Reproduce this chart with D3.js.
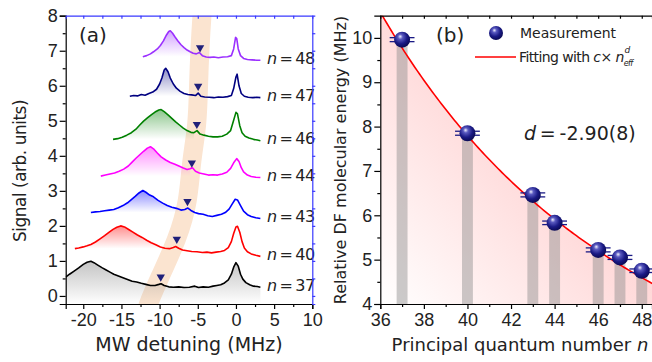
<!DOCTYPE html>
<html>
<head>
<meta charset="utf-8">
<script src="https://cdn.jsdelivr.net/npm/d3@7"></script>
<style>
  body { margin: 0; background: #fff; }
  svg { font-family: "DejaVu Sans", sans-serif; }
  .tick text { font-size: 18px; fill: #222; }
</style>
</head>
<body>
<script>
// ---------- panel (a): spectra ----------
var levels = [37, 40, 43, 44, 46, 47, 48];
var traceColors = ["#000000", "#ff0000", "#0000ff", "#ff00ff", "#008000", "#000080", "#9b30ff"];

var trace37 = [[-22.3,0.54],[-21.8,0.62],[-21.2,0.71],[-20.6,0.8],[-20.0,0.9],[-19.5,0.96],[-19.0,0.99],[-18.6,0.95],[-18.1,0.88],[-17.5,0.8],[-17.0,0.74],[-16.5,0.68],[-16.0,0.62],[-15.4,0.57],[-14.8,0.52],[-14.2,0.47],[-13.6,0.42],[-13.0,0.4],[-12.4,0.36],[-11.8,0.33],[-11.2,0.3],[-10.6,0.3],[-10.1,0.33],[-9.8,0.35],[-9.4,0.3],[-8.8,0.26],[-8.2,0.25],[-7.5,0.26],[-6.8,0.24],[-6.1,0.25],[-5.4,0.28],[-4.9,0.24],[-4.3,0.26],[-3.6,0.25],[-3.0,0.28],[-2.5,0.3],[-2.0,0.32],[-1.5,0.37],[-1.0,0.46],[-0.6,0.62],[-0.3,0.82],[0.0,0.95],[0.3,0.85],[0.6,0.62],[0.9,0.48],[1.3,0.38],[1.8,0.32],[2.3,0.28],[2.8,0.27],[3.2,0.25]];
var trace40 = [[-21.1,1.35],[-20.6,1.37],[-20.0,1.4],[-19.5,1.43],[-19.0,1.47],[-18.4,1.54],[-17.8,1.63],[-17.2,1.72],[-16.6,1.82],[-16.1,1.9],[-15.6,1.96],[-15.1,2.0],[-14.6,1.97],[-14.0,1.89],[-13.5,1.82],[-12.9,1.74],[-12.3,1.67],[-11.7,1.59],[-11.1,1.52],[-10.5,1.46],[-9.9,1.4],[-9.3,1.36],[-8.7,1.35],[-8.2,1.38],[-7.9,1.41],[-7.5,1.36],[-7.0,1.31],[-6.4,1.29],[-5.8,1.27],[-5.1,1.26],[-4.4,1.24],[-3.8,1.25],[-3.2,1.23],[-2.6,1.25],[-2.0,1.27],[-1.5,1.3],[-1.0,1.38],[-0.6,1.55],[-0.3,1.78],[0.0,1.97],[0.2,1.99],[0.5,1.82],[0.8,1.55],[1.1,1.37],[1.5,1.26],[2.0,1.2],[2.6,1.16],[3.2,1.13]];
var trace43 = [[-19.0,2.38],[-18.4,2.4],[-17.8,2.41],[-17.2,2.43],[-16.6,2.45],[-16.0,2.47],[-15.4,2.52],[-14.8,2.58],[-14.2,2.66],[-13.7,2.75],[-13.2,2.84],[-12.7,2.94],[-12.2,3.01],[-11.8,2.96],[-11.3,2.88],[-10.8,2.83],[-10.2,2.73],[-9.6,2.65],[-9.0,2.58],[-8.4,2.53],[-7.8,2.5],[-7.2,2.45],[-6.7,2.47],[-6.3,2.51],[-5.9,2.44],[-5.4,2.38],[-4.9,2.35],[-4.3,2.33],[-3.7,2.29],[-3.1,2.27],[-2.5,2.3],[-1.9,2.33],[-1.4,2.38],[-0.9,2.48],[-0.5,2.62],[-0.1,2.76],[0.2,2.74],[0.6,2.58],[1.0,2.42],[1.5,2.32],[2.0,2.27],[2.6,2.23],[3.2,2.21]];
var trace44 = [[-17.7,3.42],[-17.1,3.45],[-16.5,3.48],[-15.9,3.51],[-15.3,3.56],[-14.7,3.62],[-14.1,3.71],[-13.6,3.82],[-13.1,3.93],[-12.6,4.03],[-12.1,4.13],[-11.6,4.22],[-11.2,4.26],[-10.8,4.2],[-10.3,4.08],[-9.8,3.97],[-9.2,3.88],[-8.6,3.81],[-8.0,3.76],[-7.4,3.7],[-6.9,3.65],[-6.4,3.61],[-6.0,3.63],[-5.7,3.66],[-5.3,3.56],[-4.8,3.51],[-4.2,3.48],[-3.6,3.45],[-3.0,3.46],[-2.4,3.45],[-1.8,3.48],[-1.2,3.53],[-0.7,3.64],[-0.3,3.8],[0.1,3.92],[0.4,3.84],[0.7,3.66],[1.0,3.54],[1.5,3.45],[2.0,3.41],[2.6,3.39],[3.2,3.38]];
var trace46 = [[-16.1,4.47],[-15.5,4.49],[-14.9,4.53],[-14.3,4.59],[-13.7,4.66],[-13.1,4.76],[-12.6,4.88],[-12.1,4.99],[-11.6,5.08],[-11.1,5.17],[-10.6,5.25],[-10.1,5.31],[-9.8,5.32],[-9.4,5.26],[-8.9,5.17],[-8.4,5.07],[-7.9,4.97],[-7.4,4.88],[-6.9,4.79],[-6.4,4.72],[-5.9,4.67],[-5.5,4.66],[-5.1,4.72],[-4.7,4.62],[-4.2,4.59],[-3.6,4.56],[-3.0,4.54],[-2.4,4.54],[-1.8,4.56],[-1.2,4.62],[-0.7,4.72],[-0.35,4.98],[0.0,5.24],[0.2,5.2],[0.5,4.86],[0.8,4.66],[1.2,4.56],[1.7,4.51],[2.3,4.47],[2.8,4.45],[3.2,4.43]];
var trace47 = [[-13.9,5.7],[-13.4,5.72],[-12.9,5.71],[-12.4,5.75],[-11.9,5.73],[-11.4,5.78],[-10.9,5.82],[-10.4,5.9],[-10.0,6.05],[-9.7,6.22],[-9.4,6.45],[-9.2,6.5],[-8.9,6.4],[-8.6,6.22],[-8.2,6.05],[-7.8,5.93],[-7.3,5.84],[-6.8,5.78],[-6.3,5.75],[-5.8,5.74],[-5.3,5.72],[-4.95,5.79],[-4.6,5.7],[-4.1,5.68],[-3.5,5.67],[-2.9,5.66],[-2.3,5.68],[-1.7,5.67],[-1.1,5.69],[-0.6,5.72],[-0.3,5.92],[0.0,6.25],[0.15,6.33],[0.4,6.0],[0.7,5.78],[1.1,5.7],[1.6,5.67],[2.2,5.66],[2.7,5.67],[3.2,5.66]];
var trace48 = [[-12.2,6.83],[-11.7,6.86],[-11.2,6.91],[-10.8,6.97],[-10.3,7.05],[-9.9,7.15],[-9.5,7.28],[-9.1,7.45],[-8.8,7.55],[-8.6,7.57],[-8.3,7.5],[-8.0,7.4],[-7.6,7.28],[-7.2,7.17],[-6.8,7.09],[-6.4,7.02],[-6.0,6.97],[-5.6,6.93],[-5.2,6.91],[-4.8,6.95],[-4.4,6.86],[-3.9,6.82],[-3.4,6.81],[-2.9,6.82],[-2.3,6.8],[-1.7,6.82],[-1.1,6.83],[-0.6,6.86],[-0.3,7.05],[-0.05,7.38],[0.1,7.35],[0.3,7.05],[0.6,6.86],[1.0,6.78],[1.5,6.75],[2.1,6.74],[2.7,6.73],[3.2,6.73]];
var traces = [trace37, trace40, trace43, trace44, trace46, trace47, trace48];

// triangle markers (molecular resonance)
var markerX = [-9.85, -7.75, -6.35, -5.78, -5.12, -4.95, -4.7];
var markerY = [0.54, 1.62, 2.7, 3.8, 4.9, 5.99, 7.09];

// shaded guide band
var bandX = [-11.9, -11.45, -9.95, -7.8, -6.4, -5.8, -5.15, -4.9, -4.7, -4.45, -4.3];
var bandY = [-0.6, -0.23, 0.54, 1.62, 2.7, 3.8, 4.9, 6.0, 7.09, 8.0, 8.4];

var xTicksA = [-20, -15, -10, -5, 0, 5, 10];
var yTicksA = [0, 1, 2, 3, 4, 5, 6, 7, 8];

// ---------- panel (b): energies ----------
var nValues = [37, 40, 43, 44, 46, 47, 48];
var energy = [9.96, 7.85, 6.46, 5.83, 5.22, 5.05, 4.75];
var energyErr = [0.045, 0.045, 0.045, 0.04, 0.045, 0.045, 0.04];
var fitC = 345000, fitD = -2.90;
var xTicksB = [36, 38, 40, 42, 44, 46, 48];
var yTicksB = [4, 5, 6, 7, 8, 9, 10];

var W = 652, H = 362;
var svg = d3.select("body").append("svg").attr("width", W).attr("height", H);
var defs = svg.append("defs");

// ---------- scales ----------
var xA = d3.scaleLinear().domain([-22.3, 10]).range([65.7, 312.3]);
var yA = d3.scaleLinear().domain([-0.23, 8]).range([304, 15.7]);
var xB = d3.scaleLinear().domain([36, 48.47]).range([380.3, 652]);
var yB = d3.scaleLinear().domain([4, 10.5]).range([304, 15.7]);

defs.append("clipPath").attr("id", "clipA").append("rect")
  .attr("x", 65.7).attr("y", 15.7).attr("width", 246.6).attr("height", 288.3);
defs.append("clipPath").attr("id", "clipB").append("rect")
  .attr("x", 380.3).attr("y", 15.7).attr("width", 272).attr("height", 288.3);

// gradients for the spectra fills
traceColors.forEach(function (c, i) {
  var g = defs.append("linearGradient").attr("id", "tg" + i)
    .attr("x1", 0).attr("y1", 0).attr("x2", 0).attr("y2", 1);
  g.append("stop").attr("offset", "0%").attr("stop-color", i === 0 ? "#888" : c)
    .attr("stop-opacity", i === 0 ? 0.5 : 0.45);
  g.append("stop").attr("offset", "100%").attr("stop-color", i === 0 ? "#888" : c)
    .attr("stop-opacity", 0);
});

// ---------- panel (a) ----------
var gA = svg.append("g");
var plotA = gA.append("g").attr("clip-path", "url(#clipA)");

plotA.append("path")
  .datum(d3.zip(bandX, bandY))
  .attr("d", d3.line().x(function (d) { return xA(d[0]); }).y(function (d) { return yA(d[1]); }).curve(d3.curveNatural))
  .attr("fill", "none")
  .attr("stroke", "#fbe4d0")
  .attr("stroke-width", 19);

traces.forEach(function (tr, i) {
  var pts = i === 0 ? tr : tr.filter(function (d) { return d[0] <= markerX[i]; });
  var base = i === 0 ? -0.23 : tr[0][1];
  plotA.append("path")
    .datum(pts)
    .attr("d", d3.area()
      .x(function (d) { return xA(d[0]); })
      .y0(yA(base))
      .y1(function (d) { return yA(d[1]); }))
    .attr("fill", "url(#tg" + i + ")");
});

traces.forEach(function (tr, i) {
  plotA.append("path")
    .datum(tr)
    .attr("d", d3.line().x(function (d) { return xA(d[0]); }).y(function (d) { return yA(d[1]); }))
    .attr("fill", "none")
    .attr("stroke", traceColors[i])
    .attr("stroke-width", 1.6)
    .attr("stroke-linejoin", "round");
});

plotA.selectAll(".tri")
  .data(d3.zip(markerX, markerY))
  .enter().append("path")
  .attr("class", "tri")
  .attr("d", d3.symbol().type(d3.symbolTriangle).size(30))
  .attr("transform", function (d) { return "translate(" + xA(d[0]) + "," + yA(d[1]) + ") rotate(180)"; })
  .attr("fill", "#20207a");

// level labels
gA.selectAll(".lvl")
  .data(levels)
  .enter().append("text")
  .attr("class", "lvl")
  .attr("x", xA(4.06))
  .attr("y", function (d, i) { var t = traces[i]; return yA(t[t.length - 1][1]) - 2; })
  .attr("dy", "0.35em")
  .style("font-size", "16px")
  .style("letter-spacing", "-0.4px")
  .style("fill", "#222")
  .each(function (d) {
    var t = d3.select(this);
    t.append("tspan").style("font-style", "italic").text("n");
    t.append("tspan").text("\u2009=\u2009" + d);
  });

// axes for (a)
gA.append("g").attr("transform", "translate(0,304)")
  .call(d3.axisBottom(xA).tickValues(xTicksA).tickSize(5).tickPadding(4).tickFormat(function (d) { return String(d); }));
gA.append("g").attr("transform", "translate(0,304)")
  .call(d3.axisBottom(xA).tickValues(d3.range(-22.5, 10, 2.5).filter(function (v) { return v % 5 !== 0 && v > -22.3; })).tickSize(3).tickFormat(""))
  .select(".domain").remove();
gA.append("g").attr("transform", "translate(65.7,0)")
  .call(d3.axisLeft(yA).tickValues(yTicksA).tickSize(6).tickPadding(2).tickFormat(function (d) { return String(d); }));
gA.append("g").attr("transform", "translate(65.7,0)")
  .call(d3.axisLeft(yA).tickValues(d3.range(0.5, 8, 1)).tickSize(3).tickFormat(""))
  .select(".domain").remove();
var topA = gA.append("g").attr("transform", "translate(0,15.7)")
  .call(d3.axisBottom(xA).tickValues(d3.range(-20, 10, 2.5)).tickSize(3).tickFormat(""));
topA.selectAll("line,path").attr("stroke", "#3a3aff");
var rightA = gA.append("g").attr("transform", "translate(312.3,0)")
  .call(d3.axisRight(yA).tickValues(d3.range(0, 8, 0.5)).tickSize(3).tickFormat(""));
rightA.selectAll("line,path").attr("stroke", "#3a3aff");

gA.append("text").attr("x", 79).attr("y", 42).style("font-size", "20px").style("fill", "#222").text("(a)");
gA.append("text").attr("x", 189).attr("y", 351).attr("text-anchor", "middle")
  .style("font-size", "19px").style("fill", "#222").text("MW detuning (MHz)");
gA.append("text").attr("transform", "translate(26,171) rotate(-90)").attr("text-anchor", "middle")
  .style("font-size", "17px").style("letter-spacing", "-0.5px").style("fill", "#222").text("Signal (arb. units)");

// ---------- panel (b) ----------
var gB = svg.append("g");
var plotB = gB.append("g").attr("clip-path", "url(#clipB)");

var pink = defs.append("linearGradient").attr("id", "pinkFill")
  .attr("gradientUnits", "userSpaceOnUse")
  .attr("x1", 380).attr("y1", 304).attr("x2", 590).attr("y2", 110);
pink.append("stop").attr("offset", "0%").attr("stop-color", "#ffffff");
pink.append("stop").attr("offset", "100%").attr("stop-color", "#ffcaca");

var ball = defs.append("radialGradient").attr("id", "ball")
  .attr("cx", 0.42).attr("cy", 0.38).attr("r", 0.62).attr("fx", 0.38).attr("fy", 0.3);
ball.append("stop").attr("offset", "0%").attr("stop-color", "#f0f0ff");
ball.append("stop").attr("offset", "25%").attr("stop-color", "#5a5ac0");
ball.append("stop").attr("offset", "65%").attr("stop-color", "#1a1a85");
ball.append("stop").attr("offset", "100%").attr("stop-color", "#0a0a55");

var fitN = d3.range(36, 48.6, 0.1);
var fit = function (n) { return fitC * Math.pow(n, fitD); };

plotB.append("path")
  .datum(fitN)
  .attr("d", d3.area().x(function (n) { return xB(n); }).y0(yB(4)).y1(function (n) { return yB(fit(n)); }))
  .attr("fill", "url(#pinkFill)");

plotB.selectAll(".bar")
  .data(nValues)
  .enter().append("rect")
  .attr("class", "bar")
  .attr("x", function (n) { return xB(n - 0.25); })
  .attr("width", function () { return xB(36.5) - xB(36); })
  .attr("y", function (n, i) { return yB(energy[i]); })
  .attr("height", function (n, i) { return yB(4) - yB(energy[i]); })
  .attr("fill", "#8c8c8c")
  .attr("fill-opacity", 0.45);

plotB.append("path")
  .datum(fitN)
  .attr("d", d3.line().x(function (n) { return xB(n); }).y(function (n) { return yB(fit(n)); }))
  .attr("fill", "none")
  .attr("stroke", "#ff0000")
  .attr("stroke-width", 1.6);

// error bars (caps)
nValues.forEach(function (n, i) {
  [energy[i] - energyErr[i], energy[i] + energyErr[i]].forEach(function (v) {
    gB.append("line")
      .attr("x1", xB(n - 0.57)).attr("x2", xB(n + 0.57))
      .attr("y1", yB(v)).attr("y2", yB(v))
      .attr("stroke", "#1a1a85").attr("stroke-width", 1.3);
  });
});

gB.selectAll(".pt")
  .data(nValues)
  .enter().append("circle")
  .attr("class", "pt")
  .attr("cx", function (n) { return xB(n); })
  .attr("cy", function (n, i) { return yB(energy[i]); })
  .attr("r", 8)
  .attr("fill", "url(#ball)");

// axes for (b)
gB.append("g").attr("transform", "translate(0,304)")
  .call(d3.axisBottom(xB).tickValues(xTicksB).tickSize(5).tickPadding(4).tickFormat(function (d) { return String(d); }));
gB.append("g").attr("transform", "translate(0,304)")
  .call(d3.axisBottom(xB).tickValues(d3.range(37, 49, 2)).tickSize(3).tickFormat(""))
  .select(".domain").remove();
gB.append("g").attr("transform", "translate(380.3,0)")
  .call(d3.axisLeft(yB).tickValues(yTicksB).tickSize(6).tickPadding(2).tickFormat(function (d) { return String(d); }));
gB.append("g").attr("transform", "translate(380.3,0)")
  .call(d3.axisLeft(yB).tickValues(d3.range(4.5, 10.5, 1)).tickSize(3).tickFormat(""))
  .select(".domain").remove();
gB.append("g").attr("transform", "translate(0,15.7)")
  .call(d3.axisBottom(xB).tickValues(d3.range(37, 49, 1)).tickSize(3).tickFormat(""));

gB.append("text").attr("x", 436).attr("y", 42).style("font-size", "20px").style("fill", "#222").text("(b)");
gB.append("text").attr("x", 520).attr("y", 351).attr("text-anchor", "middle")
  .style("font-size", "18px").style("fill", "#222")
  .each(function () {
    var t = d3.select(this);
    t.append("tspan").text("Principal quantum number ");
    t.append("tspan").style("font-style", "italic").text("n");
  });
gB.append("text").attr("transform", "translate(346,160) rotate(-90)").attr("text-anchor", "middle")
  .style("font-size", "16px").style("fill", "#222").text("Relative DF molecular energy (MHz)");

var dTxt = gB.append("text").attr("x", 524).attr("y", 140).style("font-size", "19px").style("fill", "#222");
dTxt.append("tspan").style("font-style", "italic").text("d");
dTxt.append("tspan").text("\u2009=\u2009-2.90(8)");

// legend
var leg = gB.append("g");
leg.append("circle").attr("cx", 496).attr("cy", 33).attr("r", 7).attr("fill", "url(#ball)");
leg.append("text").attr("x", 520).attr("y", 38).style("font-size", "14px").style("fill", "#222").text("Measurement");
leg.append("line").attr("x1", 475).attr("x2", 516).attr("y1", 57).attr("y2", 57)
  .attr("stroke", "#ff0000").attr("stroke-width", 1.6);
var ft = leg.append("text").attr("x", 519).attr("y", 62).style("font-size", "14px").style("fill", "#222")
  .style("letter-spacing", "-0.6px");
ft.append("tspan").text("Fitting with ");
ft.append("tspan").style("font-style", "italic").text("c");
ft.append("tspan").text("\u00d7 ");
ft.append("tspan").style("font-style", "italic").text("n");
ft.append("tspan").attr("dy", 4).style("font-size", "8px").style("font-style", "italic").text("eff");
ft.append("tspan").attr("dx", -8).attr("dy", -13).style("font-size", "9px").style("font-style", "italic").text("d");

svg.selectAll(".domain, .tick line").attr("stroke-width", 1.2);
</script>
</body>
</html>
